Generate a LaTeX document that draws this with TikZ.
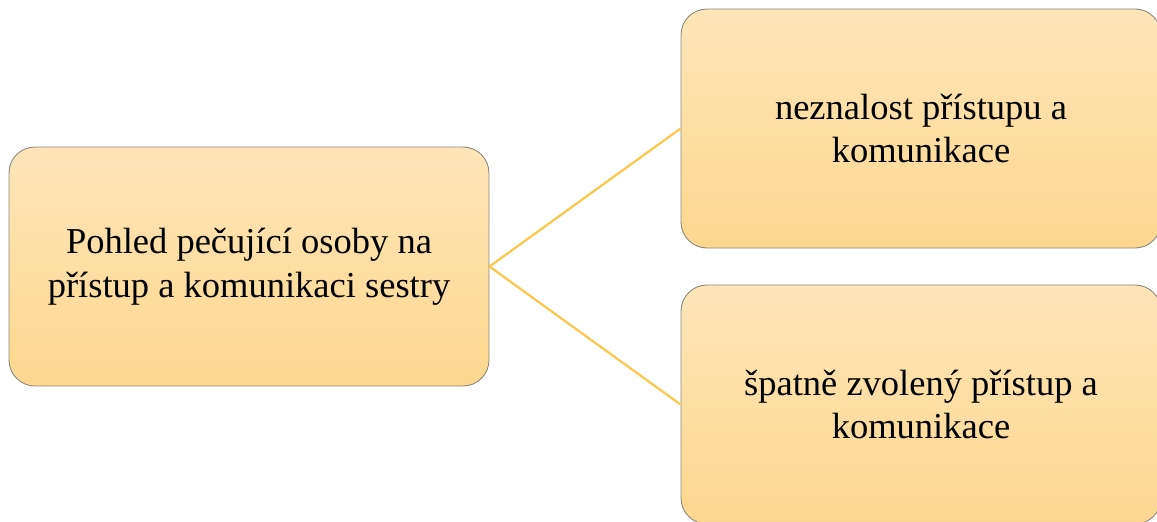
\documentclass[tikz,border=0pt]{standalone}
\usepackage{fontspec}
\setmainfont{Liberation Serif}
\usetikzlibrary{positioning}
\definecolor{CardTop}{HTML}{FDE5B9}
\definecolor{CardBottom}{HTML}{FDD78E}
\definecolor{CardEdge}{HTML}{8C877D}
\definecolor{Link}{HTML}{FFC64A}
\tikzset{
  card/.style={draw=CardEdge,line width=0.9pt,rounded corners=26pt,top color=CardTop,bottom color=CardBottom,minimum width=480pt,minimum height=239pt,align=center,inner sep=0pt,text=black,font=\fontsize{36.5}{43.5}\selectfont},
  link/.style={draw=Link,line width=2.2pt}
}

\begin{document}
\begin{tikzpicture}[x=1pt,y=-1pt]
  \useasboundingbox (0,0) rectangle (1157,522);
  % left card
  \node[card] (view) at (249,266.5) {Pohled pečující osoby na\\přístup a komunikaci sestry};
  % right cards
  \node[card] (lack) at (921,128.5) {neznalost přístupu a\\komunikace};
  \node[card] (wrong) at (921,404.5) {špatně zvolený přístup a\\komunikace};
  % links
  \draw[link] (view.east) -- (lack.west);
  \draw[link] (view.east) -- (wrong.west);
\end{tikzpicture}
\end{document}
